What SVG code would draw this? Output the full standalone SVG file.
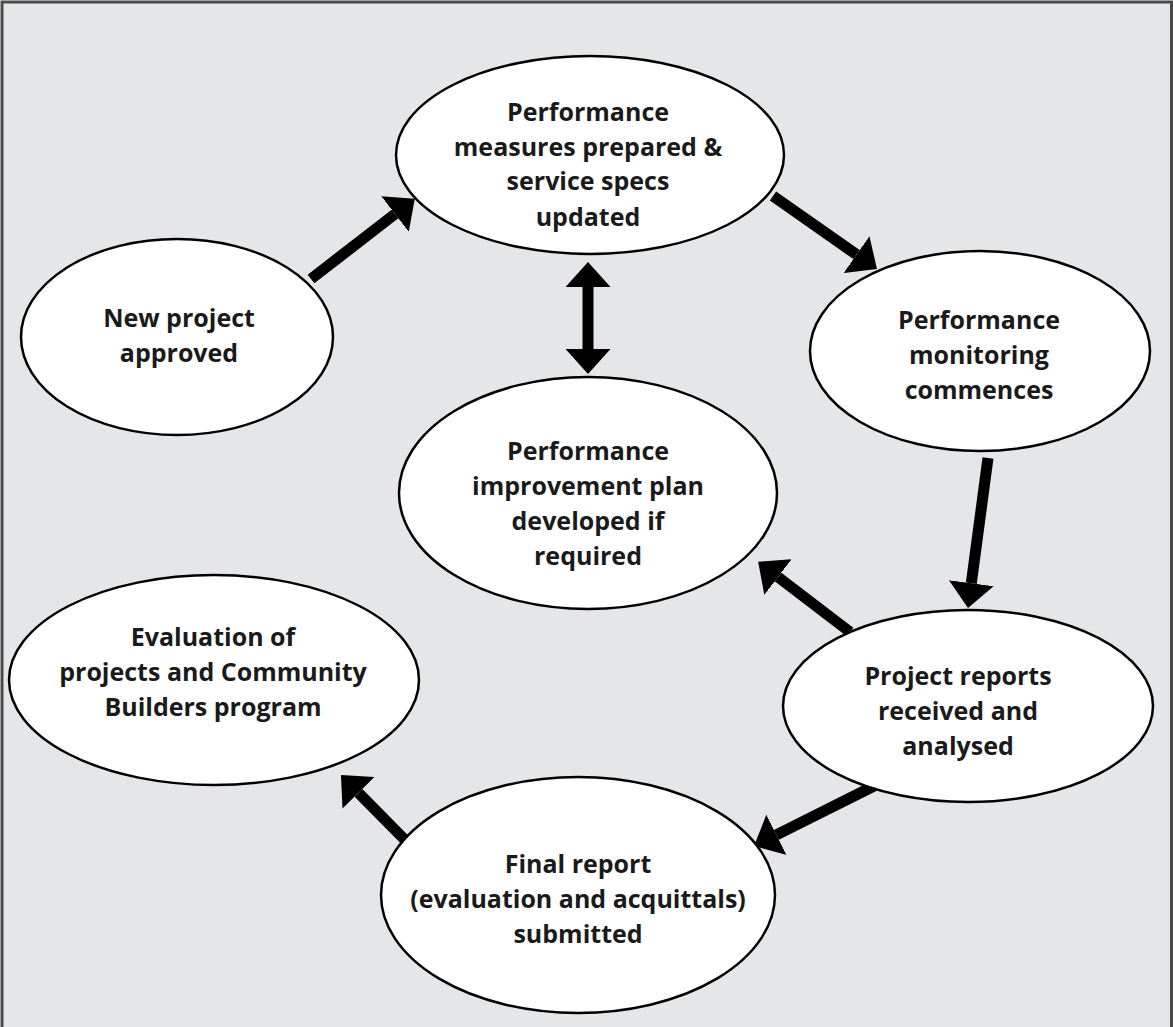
<svg xmlns="http://www.w3.org/2000/svg" width="1173" height="1027" viewBox="0 0 1173 1027">
  <style>
    .node ellipse { fill: #ffffff; stroke: #000000; stroke-width: 2.5; }
    .node text { font-family: "Open Sans", "Liberation Sans", sans-serif; font-weight: bold; font-size: 25px; fill: #1a1a1a; text-anchor: middle; }
    .shaft { stroke: #000000; stroke-width: 11; fill: none; }
    .head { fill: #000000; }
  </style>
  <defs>
    <!-- arrowhead: base sits on the line end, tip 25px further on -->
    <marker id="tip" viewBox="0 0 25 45" refX="0" refY="22.5" markerWidth="25" markerHeight="45" markerUnits="userSpaceOnUse" orient="auto-start-reverse">
      <path class="head" d="M0,0 L25,22.5 L0,45 Z"/>
    </marker>
  </defs>

  <!-- page -->
  <rect x="2" y="2" width="1169.5" height="1030" fill="#e5e6e7" stroke="#4a4a4a" stroke-width="3"/>

  <!-- connectors (drawn first so the ellipses cover their tails) -->
  <g id="connectors">
    <line class="shaft" x1="311" y1="279" x2="395" y2="214" marker-end="url(#tip)"/>
    <line class="shaft" x1="773" y1="196" x2="856.5" y2="254.6" marker-end="url(#tip)"/>
    <line class="shaft" x1="588" y1="287" x2="588" y2="349" marker-start="url(#tip)" marker-end="url(#tip)"/>
    <line class="shaft" x1="988" y1="458" x2="971.3" y2="583.2" marker-end="url(#tip)"/>
    <line class="shaft" x1="850" y1="632" x2="778" y2="577" marker-end="url(#tip)"/>
    <line class="shaft" x1="880" y1="783" x2="776.4" y2="834.8" marker-end="url(#tip)"/>
    <line class="shaft" x1="408" y1="843" x2="358.5" y2="792.8" marker-end="url(#tip)"/>
  </g>

  <g id="measures" class="node">
    <ellipse cx="590" cy="155" rx="194" ry="99"/>
    <text x="588" y="121">Performance</text>
    <text x="588" y="156">measures prepared &amp;</text>
    <text x="588" y="190">service specs</text>
    <text x="588" y="226">updated</text>
  </g>

  <g id="approved" class="node">
    <ellipse cx="177" cy="337" rx="156" ry="98"/>
    <text x="179" y="327">New project</text>
    <text x="179" y="362">approved</text>
  </g>

  <g id="monitoring" class="node">
    <ellipse cx="980" cy="351" rx="170" ry="100"/>
    <text x="979" y="329">Performance</text>
    <text x="979" y="364">monitoring</text>
    <text x="979" y="399">commences</text>
  </g>

  <g id="improvement" class="node">
    <ellipse cx="588" cy="493" rx="189" ry="116"/>
    <text x="588" y="460">Performance</text>
    <text x="588" y="495">improvement plan</text>
    <text x="588" y="530">developed if</text>
    <text x="588" y="565">required</text>
  </g>

  <g id="evaluation" class="node">
    <ellipse cx="214" cy="680" rx="205" ry="105"/>
    <text x="213" y="646">Evaluation of</text>
    <text x="213" y="681">projects and Community</text>
    <text x="213" y="716">Builders program</text>
  </g>

  <g id="reports" class="node">
    <ellipse cx="968" cy="706" rx="185" ry="96"/>
    <text x="958" y="685">Project reports</text>
    <text x="958" y="720">received and</text>
    <text x="958" y="755">analysed</text>
  </g>

  <g id="final" class="node">
    <ellipse cx="578" cy="895" rx="197" ry="118"/>
    <text x="578" y="873">Final report</text>
    <text x="578" y="908">(evaluation and acquittals)</text>
    <text x="578" y="943">submitted</text>
  </g>
</svg>
